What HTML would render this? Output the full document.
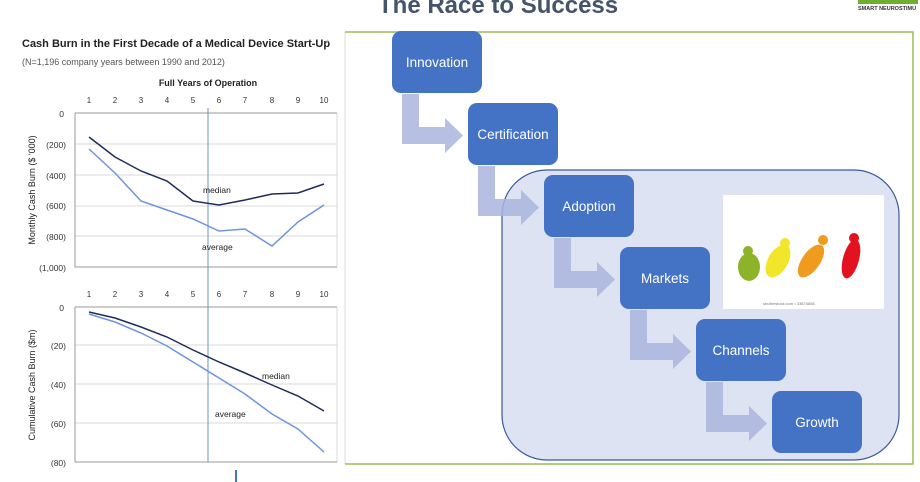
<!DOCTYPE html>
<html><head><meta charset="utf-8"><style>
body{margin:0;width:920px;height:482px;background:#fff;overflow:hidden;font-family:"Liberation Sans",sans-serif;position:relative}
.box{position:absolute;width:90px;height:62px;background:#4472c4;border-radius:9px;color:#fff;font-size:13.5px;display:flex;align-items:center;justify-content:center}
</style></head><body>
<svg width="920" height="482" style="position:absolute;left:0;top:0" font-family="Liberation Sans, sans-serif">
<text x="378" y="13" font-size="24" font-weight="bold" fill="#44546a">The Race to Success</text>
<text x="858" y="10" font-size="5.5" font-weight="bold" fill="#333">SMART NEUROSTIMU</text>
<rect x="858" y="-4" width="60" height="8" fill="#6fae2f"/>
<line x1="345" y1="32" x2="345" y2="464" stroke="#ddd"/>
<polyline points="345,32 913,32 913,464 345,464" fill="none" stroke="#9bbb59" stroke-width="1.5"/>
<rect x="502" y="170" width="397" height="290" rx="45" fill="#dde3f3" stroke="#3a5a9a" stroke-width="1.2"/>
<rect x="723" y="195" width="161" height="114" fill="#fff"/>
<g transform="translate(723,195)">
<ellipse cx="26" cy="72" rx="11" ry="14" fill="#8db32a"/><circle cx="25" cy="56" r="5" fill="#8db32a"/>
<ellipse cx="55" cy="66" rx="10" ry="18" fill="#f1e62a" transform="rotate(30 55 66)"/><circle cx="62" cy="48" r="5" fill="#f1e62a"/>
<ellipse cx="88" cy="66" rx="9" ry="19" fill="#ee9b1e" transform="rotate(35 88 66)"/><circle cx="100" cy="45" r="5" fill="#ee9b1e"/>
<ellipse cx="128" cy="64" rx="8" ry="20" fill="#e2131f" transform="rotate(15 128 64)"/><circle cx="131" cy="43" r="5" fill="#e2131f"/>
<text x="40" y="110" font-size="4" fill="#777">shutterstock.com • 33874858</text></g>
<g fill="#aab5de" opacity="0.85">
<path id="a" d="M402,94 h17 v33 h26 v-9 l18,17.5 -18,17.5 v-9 h-43 z"/>
<use href="#a" transform="translate(76,72)"/>
<use href="#a" transform="translate(152,144)"/>
<use href="#a" transform="translate(228,216)"/>
<use href="#a" transform="translate(304,288)"/>
</g>
<g font-size="11" fill="#222">
<text x="22" y="47" font-weight="bold" font-size="11">Cash Burn in the First Decade of a Medical Device Start-Up</text>
<text x="325" y="47" fill="#999">*</text>
<text x="22" y="65" font-size="9" fill="#555">(N=1,196 company years between 1990 and 2012)</text>
<text x="208" y="86" font-size="9" font-weight="bold" text-anchor="middle">Full Years of Operation</text>
</g>
<g font-size="8" fill="#333" text-anchor="middle">
<text x="89" y="103">1</text><text x="115" y="103">2</text><text x="141" y="103">3</text><text x="167" y="103">4</text><text x="193" y="103">5</text><text x="219" y="103">6</text><text x="245" y="103">7</text><text x="272" y="103">8</text><text x="298" y="103">9</text><text x="324" y="103">10</text>
<text x="89" y="297">1</text><text x="115" y="297">2</text><text x="141" y="297">3</text><text x="167" y="297">4</text><text x="193" y="297">5</text><text x="219" y="297">6</text><text x="245" y="297">7</text><text x="272" y="297">8</text><text x="298" y="297">9</text><text x="324" y="297">10</text>
</g>
<g font-size="8.5" fill="#333" text-anchor="end">
<text x="64" y="117">0</text><text x="66" y="148">(200)</text><text x="66" y="179">(400)</text><text x="66" y="209">(600)</text><text x="66" y="240">(800)</text><text x="66" y="271">(1,000)</text>
<text x="64" y="311">0</text><text x="66" y="349">(20)</text><text x="66" y="388">(40)</text><text x="66" y="427">(60)</text><text x="66" y="466">(80)</text>
</g>
<text transform="translate(35,190) rotate(-90)" font-size="9" text-anchor="middle" fill="#222">Monthly Cash Burn ($ '000)</text>
<text transform="translate(35,385) rotate(-90)" font-size="9" text-anchor="middle" fill="#222">Cumulative Cash Burn ($m)</text>
<g stroke="#d9d9d9" stroke-width="1">
<line x1="75" y1="144" x2="337" y2="144"/><line x1="75" y1="175" x2="337" y2="175"/><line x1="75" y1="206" x2="337" y2="206"/><line x1="75" y1="236" x2="337" y2="236"/>
<line x1="75" y1="345" x2="337" y2="345"/><line x1="75" y1="384" x2="337" y2="384"/><line x1="75" y1="423" x2="337" y2="423"/>
<line x1="337" y1="113" x2="337" y2="267"/><line x1="337" y1="307" x2="337" y2="462"/>
</g>
<g stroke="#999" fill="none">
<path d="M75,113 H337 M75,113 V267 H337 M75,307 H337 M75,307 V462 H337"/>
</g>
<line x1="208" y1="108" x2="208" y2="462" stroke="#6f8fcf" stroke-width="1"/>
<rect x="235" y="470" width="2" height="12" fill="#4472c4"/>
<g fill="none" stroke-width="1.5">
<polyline stroke="#1f2d5a" points="89,137 115,157 141,171 167,181 193,201 219,205 245,200 272,194 298,193 324,184"/>
<polyline stroke="#6f94dc" points="89,149 115,173 141,201 167,210 193,219 219,231 245,229 272,246 298,222 324,205"/>
<polyline stroke="#1f2d5a" points="89,312 115,318 141,327 167,337 193,350 219,362 245,373 272,385 298,396 324,411"/>
<polyline stroke="#6f94dc" points="89,314 115,322 141,333 167,346 193,362 219,378 245,394 272,414 298,429 324,452"/>
</g>
<g font-size="8.5" fill="#222">
<text x="203" y="193">median</text><text x="202" y="250">average</text>
<text x="262" y="379">median</text><text x="215" y="417">average</text>
</g>
<path d="M845,432 v11 l3,-3 2,4 1.5,-.7 -2,-4 h4 z" fill="#fff" stroke="#000" stroke-width=".6"/>
</svg>
<div class="box" style="left:392px;top:31px">Innovation</div>
<div class="box" style="left:468px;top:103px">Certification</div>
<div class="box" style="left:544px;top:175px">Adoption</div>
<div class="box" style="left:620px;top:247px">Markets</div>
<div class="box" style="left:696px;top:319px">Channels</div>
<div class="box" style="left:772px;top:391px">Growth</div>
</body></html>
